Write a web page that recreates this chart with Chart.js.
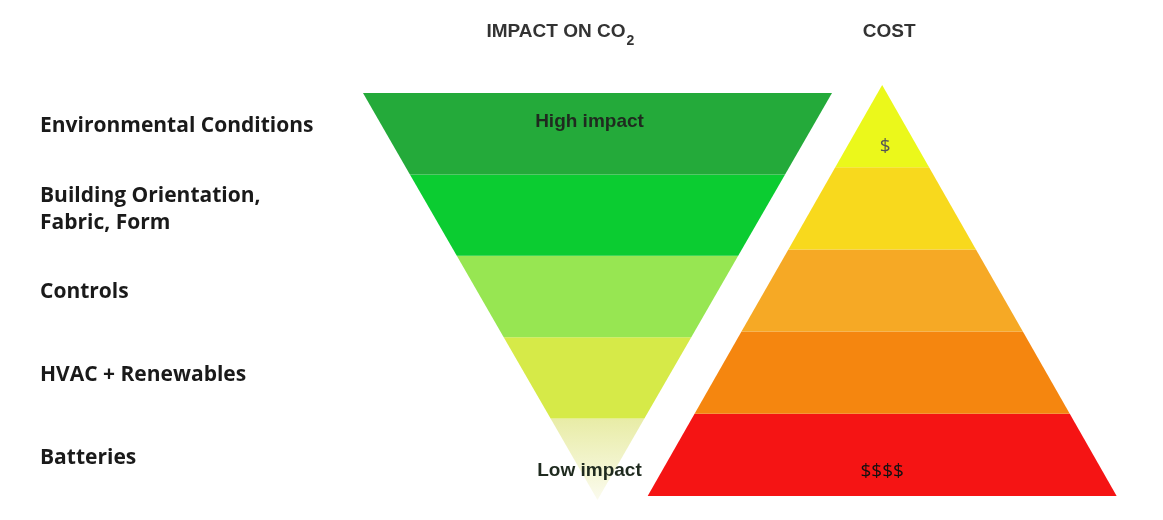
<!DOCTYPE html>
<html>
<head>
<meta charset="utf-8">
<title>Impact on CO2 and cost</title>
<script src="https://cdn.jsdelivr.net/npm/chart.js@4.4.1/dist/chart.umd.min.js"></script>
<style>
  body { margin: 0; background: #fff; }
</style>
</head>
<body>
<canvas id="chart" width="1163" height="520"></canvas>
<script>
// measures, top to bottom
const categories = [
  'Environmental Conditions',
  ['Building Orientation,', 'Fabric, Form'],
  'Controls',
  'HVAC + Renewables',
  'Batteries'
];
// half width of the CO2 funnel at the top of each band
const impactScore = [5, 4, 3, 2, 1];
// half width of the cost pyramid at the bottom of each band
const costScore = [1, 2, 3, 4, 5];
const impactNotes = ['High impact', '', '', '', 'Low impact'];
const costNotes = ['$', '', '', '', '$$$$'];

const impactColors = ['#24aa3a', '#0bcc31', '#97e652', '#d6ea48', '#ebedb0'];
const costColors = ['#ebf81b', '#f8d91d', '#f6a925', '#f5860f', '#f51414'];

const costCenter = 6.07; // x position of the pyramid, in band width units

const datasets = [];
impactScore.forEach((w, i) => {
  const next = impactScore[i + 1] || 0;
  datasets.push({
    label: 'Impact ' + i,
    yAxisID: 'yImp',
    data: [{x: -w, y: i}, {x: w, y: i}, {x: next, y: i + 1}, {x: -next, y: i + 1}],
    backgroundColor: impactColors[i]
  });
});
costScore.forEach((w, i) => {
  const prev = i ? costScore[i - 1] : 0;
  datasets.push({
    label: 'Cost ' + i,
    yAxisID: 'yCost',
    data: [
      {x: costCenter - prev, y: i}, {x: costCenter + prev, y: i},
      {x: costCenter + w, y: i + 1}, {x: costCenter - w, y: i + 1}
    ],
    backgroundColor: costColors[i]
  });
});
datasets.forEach(d => {
  d.showLine = true;
  d.fill = 'shape';
  d.borderColor = 'rgba(0,0,0,0)';
  d.borderWidth = 0;
  d.pointRadius = 0;
});

// last funnel band fades out towards the tip
datasets[4].backgroundColor = (c) => {
  const chart = c.chart;
  if (!chart.chartArea) return impactColors[4];
  const y = chart.scales.yImp;
  const g = chart.ctx.createLinearGradient(0, y.getPixelForValue(4), 0, y.getPixelForValue(5));
  g.addColorStop(0, '#e8eca6');
  g.addColorStop(1, '#fbfbee');
  return g;
};

const notesPlugin = {
  id: 'notes',
  afterDatasetsDraw(chart) {
    const {ctx, scales: {x, yImp, yCost}} = chart;
    const fx = x.getPixelForValue(0);
    const cx = x.getPixelForValue(costCenter);
    ctx.save();

    // column headers
    ctx.fillStyle = '#333';
    ctx.textBaseline = 'alphabetic';
    ctx.textAlign = 'left';
    ctx.font = 'bold 19px "Liberation Sans", Arial, sans-serif';
    const head = 'IMPACT ON CO';
    const hx = fx - 111;
    ctx.fillText(head, hx, 37);
    const hw = ctx.measureText(head).width;
    ctx.font = 'bold 14px "Liberation Sans", Arial, sans-serif';
    ctx.fillText('2', hx + hw + 1, 45);
    ctx.font = 'bold 19px "Liberation Sans", Arial, sans-serif';
    ctx.textAlign = 'center';
    ctx.fillText('COST', cx + 7, 37);

    // notes inside the shapes
    ctx.textBaseline = 'middle';
    ctx.font = 'bold 19px "Liberation Sans", Arial, sans-serif';
    ctx.fillStyle = '#1f2a1f';
    impactNotes.forEach((t, i) => {
      if (!t) return;
      const lv = i + (i === 0 ? 0.35 : 0.64);
      ctx.fillText(t, fx - 8, yImp.getPixelForValue(lv));
    });
    ctx.font = '19px "Open Sans", sans-serif';
    costNotes.forEach((t, i) => {
      if (!t) return;
      const lv = i + (i === 0 ? 0.75 : 0.70);
      ctx.fillStyle = i === 0 ? '#555' : '#111';
      ctx.fillText(t, cx + (i === 0 ? 3 : 0), yCost.getPixelForValue(lv));
    });
    ctx.restore();
  }
};

new Chart(document.getElementById('chart'), {
  type: 'scatter',
  data: { datasets },
  options: {
    responsive: false,
    animation: false,
    events: [],
    layout: { padding: { left: 40, top: 85, bottom: 20, right: 0 } },
    plugins: { legend: { display: false }, tooltip: { enabled: false } },
    scales: {
      x: { type: 'linear', display: false, bounds: 'data', min: -5.064, max: 12.058 },
      yImp: { type: 'linear', display: false, bounds: 'data', reverse: true, min: -0.098, max: 5 },
      yCost: { type: 'linear', display: false, bounds: 'data', reverse: true, min: 0, max: 5.049 },
      cat: {
        type: 'category',
        position: 'left',
        labels: categories,
        offset: true,
        grid: { display: false },
        border: { display: false },
        ticks: {
          crossAlign: 'far',
          padding: 0,
          color: '#1a1a1a',
          font: { family: '"Open Sans", sans-serif', weight: 'bold', size: 21, lineHeight: 1.3 }
        },
        afterFit: (s) => { s.width = 320; }
      }
    }
  },
  plugins: [notesPlugin]
});
</script>
</body>
</html>
